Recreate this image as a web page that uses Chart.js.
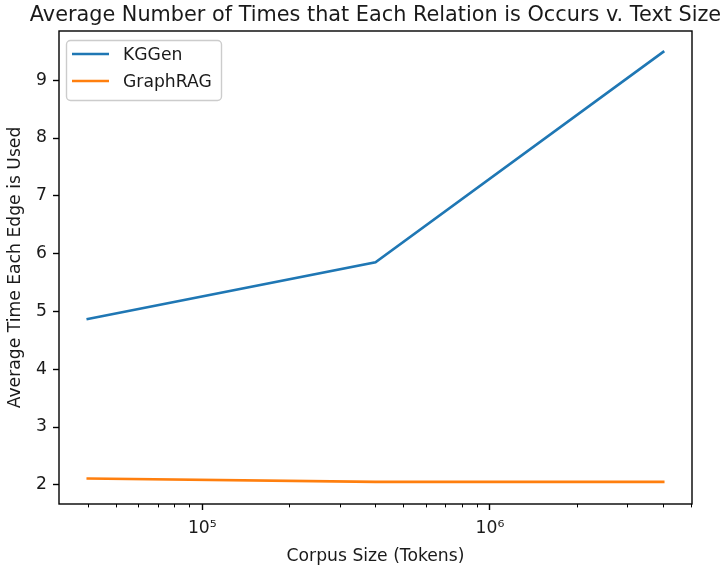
<!DOCTYPE html>
<html>
<head>
<meta charset="utf-8">
<script src="https://cdn.jsdelivr.net/npm/chart.js@4.4.1/dist/chart.umd.min.js"></script>
<style>
  html, body { margin: 0; padding: 0; background: #ffffff; }
  #wrap { width: 728px; height: 569px; position: relative; }
  canvas { display: block; }
</style>
</head>
<body>
<div id="wrap"><canvas id="chart" width="728" height="569"></canvas></div>
<script>
// Corpus sizes (tokens) and average uses per edge for each method
const corpusSizes = [40000, 400000, 4000000];
const kggenValues = [4.87, 5.85, 9.49];
const graphragValues = [2.11, 2.05, 2.05];
const seriesNames = ['KGGen', 'GraphRAG'];
const seriesColors = ['#1f77b4', '#ff7f0e'];

// Axis ticks
const yTickValues = [2, 3, 4, 5, 6, 7, 8, 9];
const xMajorTicks = [100000, 1000000];
const xMinorTicks = [40000, 50000, 60000, 70000, 80000, 90000,
                     200000, 300000, 400000, 500000, 600000, 700000, 800000, 900000,
                     2000000, 3000000, 4000000, 5000000];

const titleText = 'Average Number of Times that Each Relation is Occurs v. Text Size';
const xTitleText = 'Corpus Size (Tokens)';
const yTitleText = 'Average Time Each Edge is Used';

const FONT = '"DejaVu Sans", "Liberation Sans", sans-serif';
const TEXT_COLOR = '#1a1a1a';
const SUP = { '0': '\u2070', '1': '\u00b9', '2': '\u00b2', '3': '\u00b3', '4': '\u2074',
              '5': '\u2075', '6': '\u2076', '7': '\u2077', '8': '\u2078', '9': '\u2079' };

function powerLabel(v) {
  const e = String(Math.round(Math.log10(v)));
  return '10' + e.split('').map(d => SUP[d]).join('');
}

// Frame, minor ticks, titles and legend drawn on top of the chart
const decorPlugin = {
  id: 'decor',
  afterDraw(chart) {
    const ctx = chart.ctx;
    const area = chart.chartArea;
    const xs = chart.scales.x;
    ctx.save();

    // minor ticks on the log axis
    ctx.strokeStyle = '#000';
    ctx.lineWidth = 1.0;
    xMinorTicks.forEach(v => {
      const px = Math.round(xs.getPixelForValue(v)) + 0.5;
      ctx.beginPath();
      ctx.moveTo(px, area.bottom);
      ctx.lineTo(px, area.bottom + 3.4);
      ctx.stroke();
    });

    // axes frame
    ctx.lineWidth = 1.4;
    ctx.strokeStyle = '#000';
    ctx.strokeRect(area.left, area.top, area.right - area.left, area.bottom - area.top);

    // title
    ctx.fillStyle = TEXT_COLOR;
    ctx.font = '20.8px ' + FONT;
    ctx.textAlign = 'center';
    ctx.textBaseline = 'alphabetic';
    ctx.fillText(titleText, (area.left + area.right) / 2, 21);

    // x axis title
    ctx.font = '17.2px ' + FONT;
    ctx.fillText(xTitleText, (area.left + area.right) / 2, 561);

    // y axis title
    ctx.save();
    ctx.translate(20, (area.top + area.bottom) / 2);
    ctx.rotate(-Math.PI / 2);
    ctx.fillText(yTitleText, 0, 0);
    ctx.restore();

    // legend
    const lx = 66.5, ly = 40.5, lw = 155, lh = 60, r = 4;
    ctx.beginPath();
    ctx.moveTo(lx + r, ly);
    ctx.lineTo(lx + lw - r, ly);
    ctx.arcTo(lx + lw, ly, lx + lw, ly + r, r);
    ctx.lineTo(lx + lw, ly + lh - r);
    ctx.arcTo(lx + lw, ly + lh, lx + lw - r, ly + lh, r);
    ctx.lineTo(lx + r, ly + lh);
    ctx.arcTo(lx, ly + lh, lx, ly + lh - r, r);
    ctx.lineTo(lx, ly + r);
    ctx.arcTo(lx, ly, lx + r, ly, r);
    ctx.closePath();
    ctx.fillStyle = 'rgba(255,255,255,0.8)';
    ctx.fill();
    ctx.strokeStyle = '#cccccc';
    ctx.lineWidth = 1.4;
    ctx.stroke();

    chart.data.datasets.forEach((ds, i) => {
      const y = 54 + i * 27;
      ctx.strokeStyle = ds.borderColor;
      ctx.lineWidth = 2.6;
      ctx.beginPath();
      ctx.moveTo(72, y);
      ctx.lineTo(109, y);
      ctx.stroke();
      ctx.fillStyle = TEXT_COLOR;
      ctx.font = '17.2px ' + FONT;
      ctx.textAlign = 'left';
      ctx.textBaseline = 'alphabetic';
      ctx.fillText(ds.label, 123, y + 6);
    });

    ctx.restore();
  }
};

new Chart(document.getElementById('chart'), {
  type: 'line',
  data: {
    datasets: [
      {
        label: seriesNames[0],
        data: corpusSizes.map((x, i) => ({ x: x, y: kggenValues[i] })),
        borderColor: seriesColors[0],
        backgroundColor: seriesColors[0],
        borderWidth: 2.6,
        pointRadius: 0,
        tension: 0,
        borderCapStyle: 'square',
        fill: false
      },
      {
        label: seriesNames[1],
        data: corpusSizes.map((x, i) => ({ x: x, y: graphragValues[i] })),
        borderColor: seriesColors[1],
        backgroundColor: seriesColors[1],
        borderWidth: 2.6,
        pointRadius: 0,
        tension: 0,
        borderCapStyle: 'square',
        fill: false
      }
    ]
  },
  options: {
    responsive: false,
    animation: false,
    devicePixelRatio: 1,
    layout: { padding: { top: 31, right: 36, left: 0, bottom: 0 } },
    plugins: {
      legend: { display: false },
      title: { display: false },
      tooltip: { enabled: false }
    },
    scales: {
      x: {
        type: 'logarithmic',
        min: 31774,
        max: 5036000,
        afterFit(s) { s.height = 65; s.paddingLeft = 0; s.paddingRight = 0; },
        afterBuildTicks(s) {
          s.ticks = xMajorTicks.map(v => ({ value: v, major: true }));
        },
        ticks: {
          autoSkip: false,
          maxRotation: 0,
          minRotation: 0,
          padding: 8,
          color: TEXT_COLOR,
          font: { family: FONT, size: 17.2 },
          callback: (v) => powerLabel(v)
        },
        grid: {
          drawOnChartArea: false,
          tickLength: 6,
          tickWidth: 1.4,
          tickColor: '#000'
        },
        border: { display: false }
      },
      y: {
        type: 'linear',
        min: 1.668,
        max: 9.852,
        afterFit(s) { s.width = 59; s.paddingTop = 0; s.paddingBottom = 0; },
        afterBuildTicks(s) {
          s.ticks = yTickValues.map(v => ({ value: v }));
        },
        ticks: {
          padding: 6,
          color: TEXT_COLOR,
          font: { family: FONT, size: 17.2 },
          callback: (v) => String(v)
        },
        grid: {
          drawOnChartArea: false,
          tickLength: 6,
          tickWidth: 1.4,
          tickColor: '#000'
        },
        border: { display: false }
      }
    }
  },
  plugins: [decorPlugin]
});
</script>
</body>
</html>
